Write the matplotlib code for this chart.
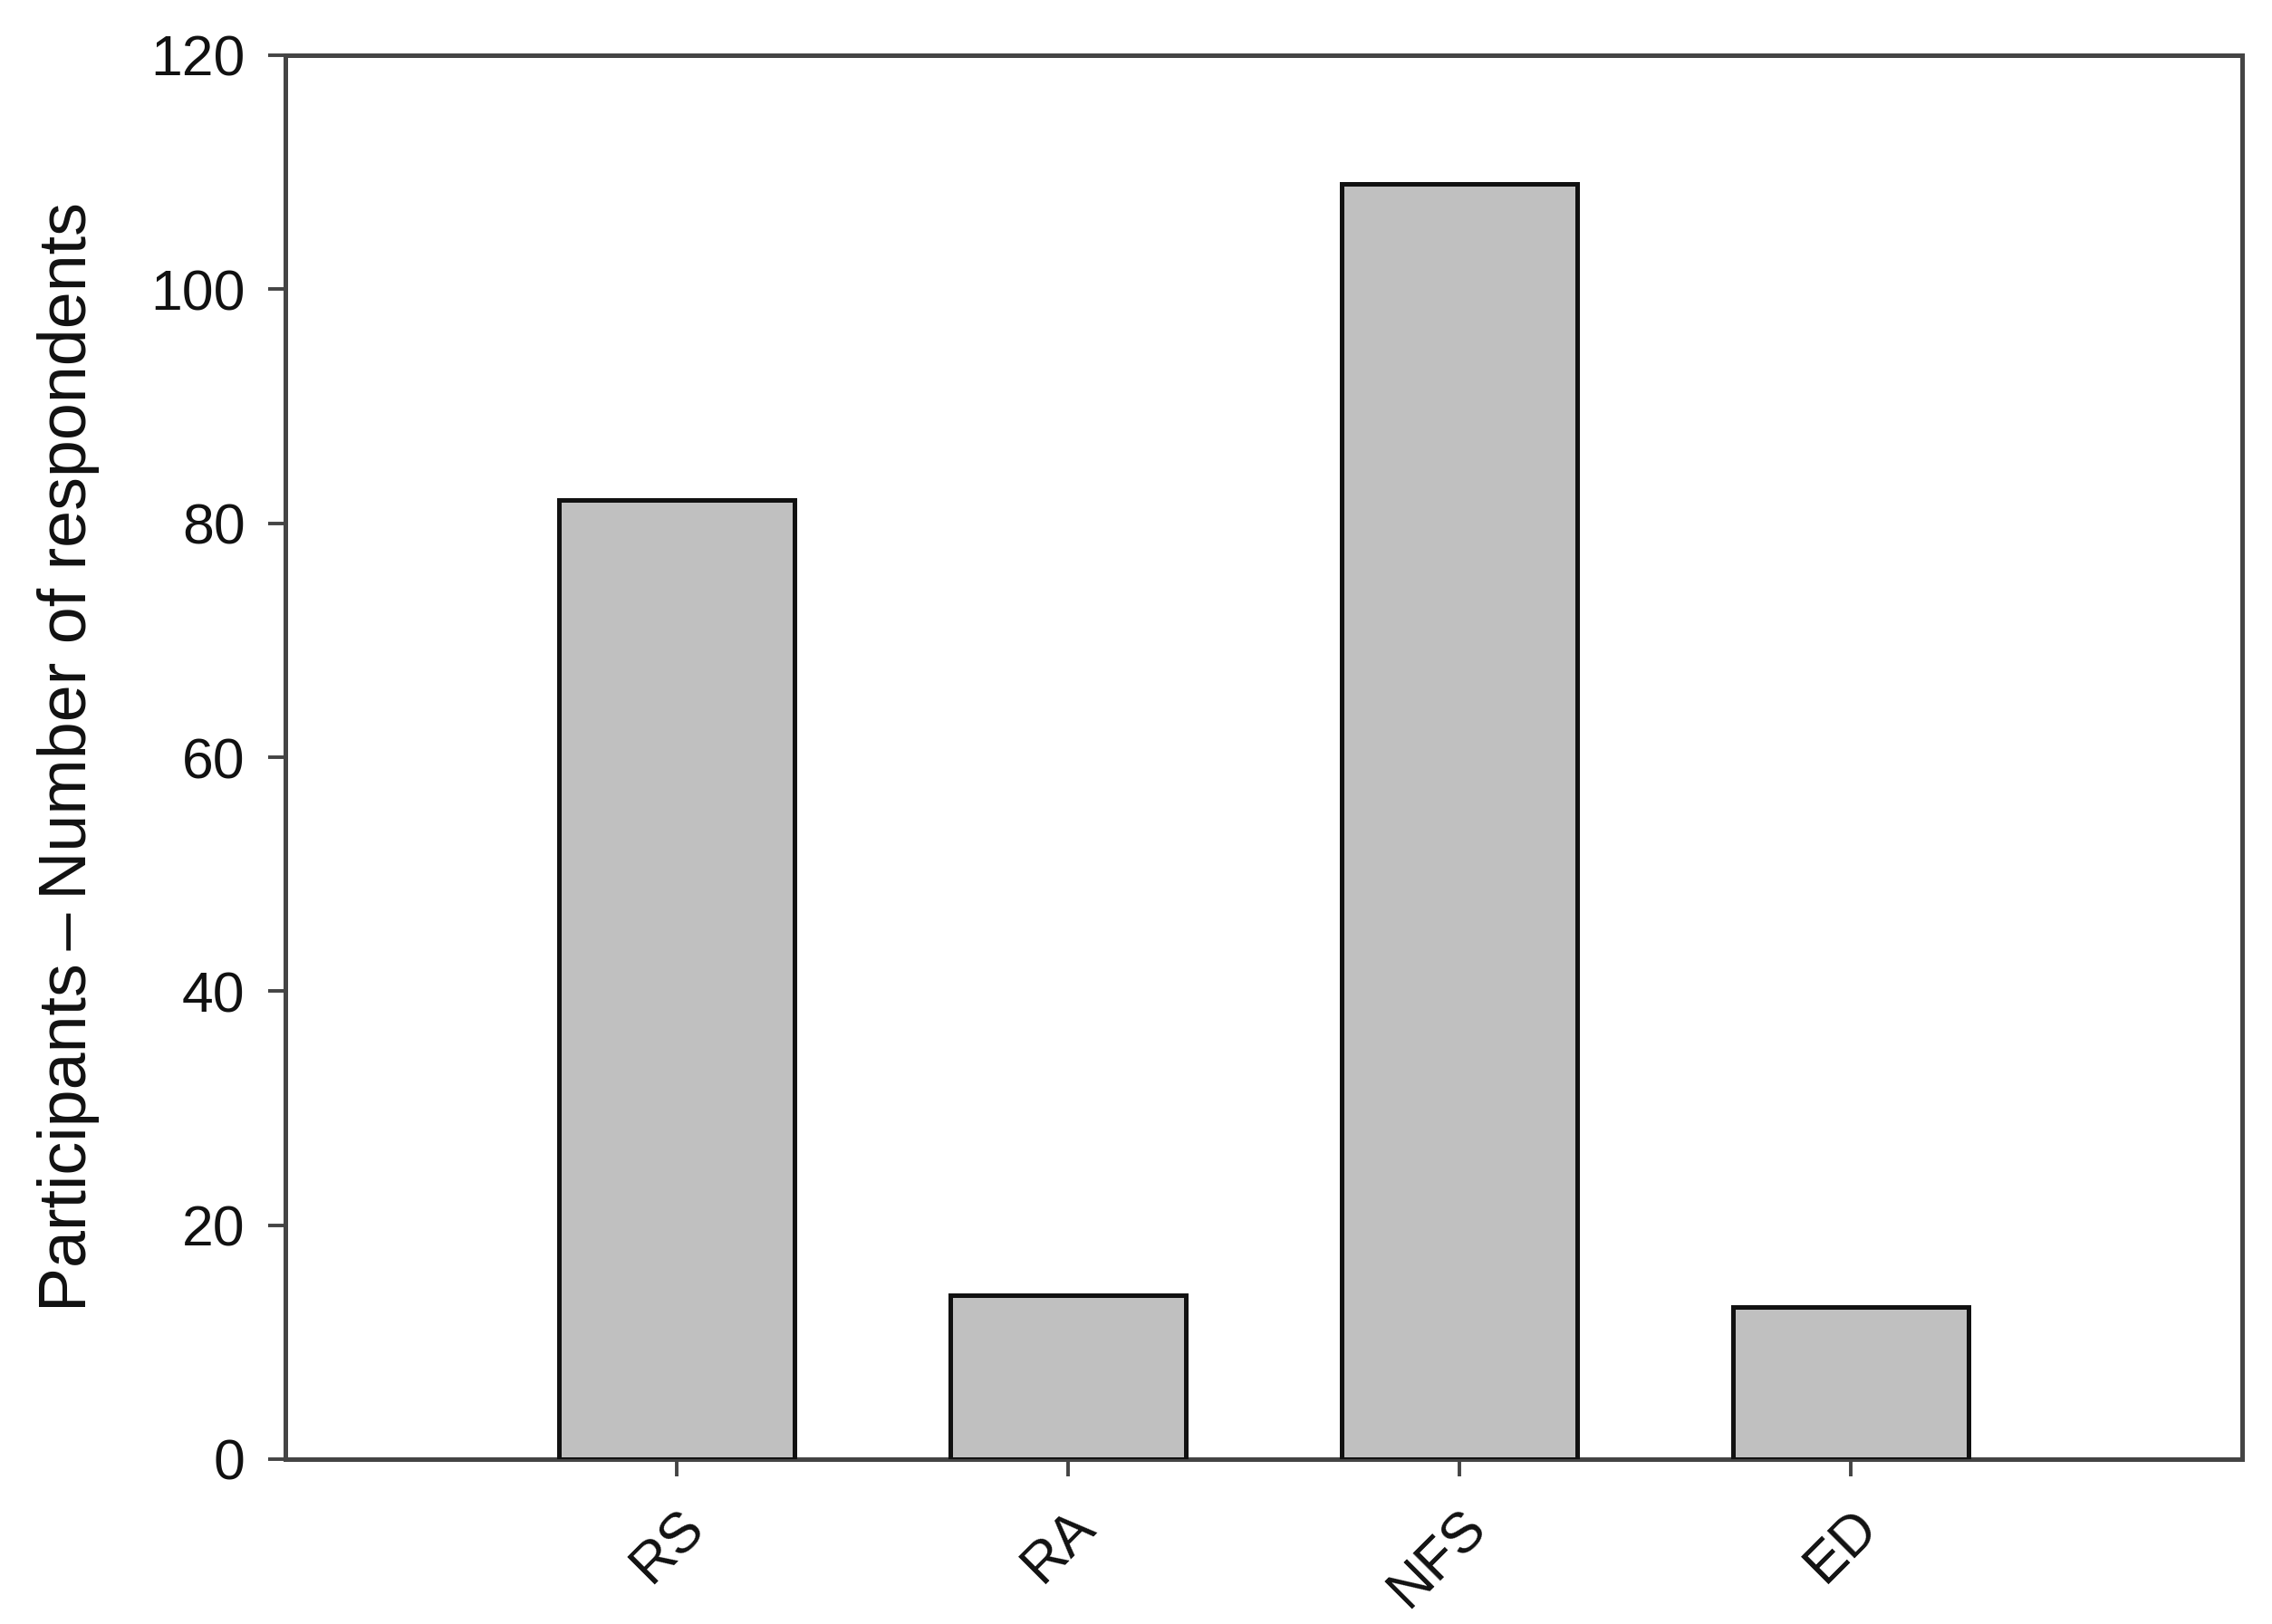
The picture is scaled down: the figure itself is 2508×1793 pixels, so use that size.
import matplotlib
matplotlib.use("Agg")
import matplotlib.pyplot as plt

categories = ["RS", "RA", "NFS", "ED"]
values = [82, 14, 109, 13]
yticks = [0, 20, 40, 60, 80, 100, 120]

plt.rcParams['font.family'] = ['Liberation Sans', 'DejaVu Sans']

fig = plt.figure(figsize=(12.54, 8.965), dpi=200)
ax = fig.add_axes([315/2508, 1-1611/1793, (2475-315)/2508, (1611-61)/1793])

x = list(range(1, len(categories) + 1))
ax.bar(x, values, width=0.6, color="#c0c0c0", edgecolor="#111111", linewidth=1.8, zorder=3)

ax.set_xlim(0, 5)
ax.set_ylim(0, 120)
ax.set_yticks(yticks)
ax.set_xticks(x)
ax.set_xticklabels(categories, rotation=45, ha="right", rotation_mode="anchor")
ax.tick_params(axis="both", direction="out", length=7, width=1.4, color="#444444",
               labelsize=22.5, labelcolor="#111111")
ax.tick_params(axis="y", pad=9)
ax.tick_params(axis="x", pad=9)
for s in ax.spines.values():
    s.set_linewidth(1.8)
    s.set_color("#444444")
ax.set_ylabel("Participants\u2009\u2013\u2009Number of respondents", fontsize=26.5,
              labelpad=20, color="#111111")

fig.savefig("out.png", dpi=200)
